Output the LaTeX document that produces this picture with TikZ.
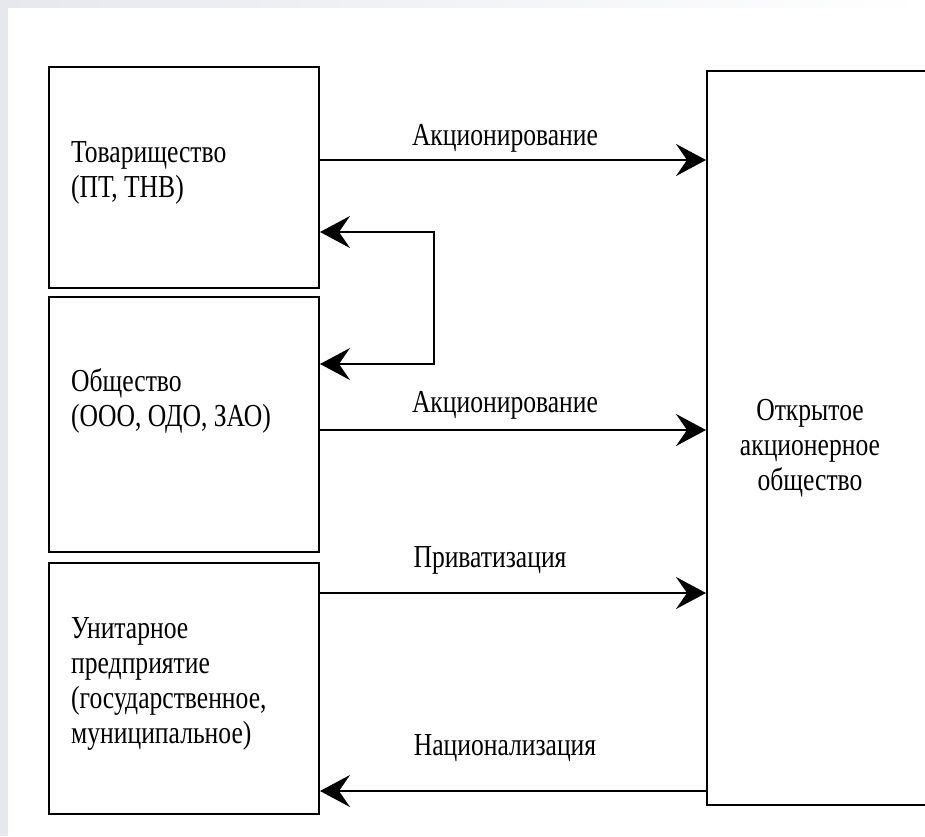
\documentclass[tikz,border=0pt]{standalone}
\usepackage{fontspec}
\setmainfont{Liberation Serif}[FakeStretch=0.8]
\usetikzlibrary{arrows.meta}
\definecolor{bgg}{HTML}{E6E8EE}
\begin{document}
\begin{tikzpicture}[x=1pt,y=-1pt,
  box/.style={draw,line width=2pt,inner sep=0pt},
  txt/.style={font=\fontsize{32}{35}\selectfont,inner sep=0pt},
  arr/.style={line width=2pt,-{Stealth[length=30pt,width=32pt,inset=11pt]}},
  arrboth/.style={line width=2pt,{Stealth[length=30pt,width=32pt,inset=11pt]}-{Stealth[length=30pt,width=32pt,inset=11pt]}}]
\useasboundingbox (0,0) rectangle (925,836);
\clip (0,0) rectangle (925,836);
\fill[bgg] (0,0) rectangle (925,836);
\shade[left color=bgg,right color=white] (0,0) rectangle (925,8);
\fill[white] (8,8) rectangle (925,836);

\node[box,minimum width=270pt,minimum height=221pt] (b1) at (184,177.5) {};
\node[box,minimum width=270pt,minimum height=255pt] (b2) at (184,424.5) {};
\node[box,minimum width=270pt,minimum height=251pt] (b3) at (184,688.5) {};
\node[box,minimum width=240pt,minimum height=734pt] (ob) at (827,438) {};

\node[txt,anchor=west,align=left] (t1) at (71,173) {Товарищество\\(ПТ, ТНВ)};
\node[txt,anchor=west,align=left] (t2) at (71,401) {Общество\\(ООО, ОДО, ЗАО)};
\node[txt,anchor=west,align=left] (t3) at (71,684) {Унитарное\\предприятие\\(государственное,\\муниципальное)};
\node[txt,align=center] (t4) at (810,448) {Открытое\\акционерное\\общество};

\node[txt] (l1) at (505,138) {Акционирование};
\node[txt] (l2) at (505,405) {Акционирование};
\node[txt] (l3) at (490,560) {Приватизация};
\node[txt] (l4) at (505,748) {Национализация};

\draw[arr] (b1.east |- 0,160) -- (ob.west |- 0,160);
\coordinate (fb) at (434,364);
\draw[arrboth] (b1.east |- 0,232) -| (fb) -- (b2.east |- fb);
\draw[arr] (b2.east |- 0,430) -- (ob.west |- 0,430);
\draw[arr] (b3.east |- 0,593) -- (ob.west |- 0,593);
\draw[arr] (ob.west |- 0,791) -- (b3.east |- 0,791);
\end{tikzpicture}
\end{document}
